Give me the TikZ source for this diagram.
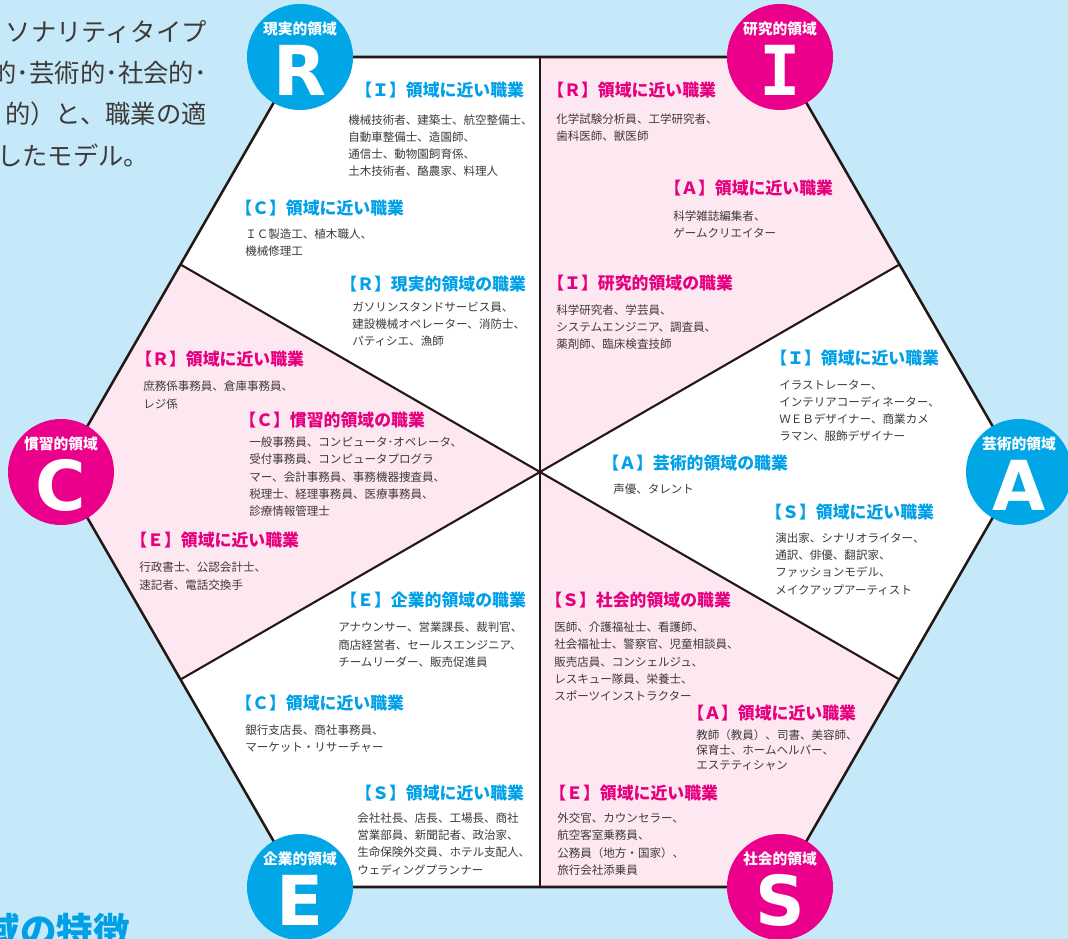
\documentclass[tikz,border=0pt]{standalone}
\usepackage{fontspec}
\setmainfont{Noto Sans CJK JP}
\newfontfamily\letterfont{DejaVu Sans}
\newfontfamily\beamfont{DejaVu Sans Mono}
\usetikzlibrary{positioning,calc}
\definecolor{skyback}{RGB}{197,233,248}
\definecolor{pinkfill}{RGB}{253,232,242}
\definecolor{cyanring}{RGB}{0,166,230}
\definecolor{pinkring}{RGB}{234,0,138}
\definecolor{cyanhead}{RGB}{0,160,233}
\definecolor{pinkhead}{RGB}{230,0,126}
\definecolor{bodyink}{RGB}{62,58,57}
\definecolor{edgeink}{RGB}{35,24,21}

\begin{document}
\begin{tikzpicture}[
        x=0.025cm, y=-0.025cm,
        frame/.style={draw=edgeink, line width=1.8pt, line join=miter},
        spoke/.style={draw=edgeink, line width=1.5pt},
        ring/.style={circle, minimum size=2.65cm, inner sep=0pt},
        ring label/.style={text=white, inner sep=0pt, font=\fontsize{10.5}{12}\selectfont\bfseries},
        big letter/.style={text=white, inner sep=0pt, font=\fontsize{49}{49}\selectfont\letterfont\bfseries},
        head/.style={anchor=west, inner sep=0pt, font=\fontsize{12}{14}\selectfont\bfseries},
        head cyan/.style={head, text=cyanhead},
        head pink/.style={head, text=pinkhead},
        jobs/.style={anchor=north west, inner sep=0pt, align=left, text=bodyink, font=\fontsize{8.2}{12.1}\selectfont},
        intro/.style={inner sep=0pt, text=bodyink, font=\fontsize{18}{20}\selectfont}
    ]
    \useasboundingbox (0,0) rectangle (1068,939);
    \clip (0,0) rectangle (1068,939);
    \fill[skyback] (0,0) rectangle (1068,939);

    \coordinate (O) at (540,472);
    \coordinate (vR) at (300,57);
    \coordinate (vI) at (780,57);
    \coordinate (vA) at (1019,472);
    \coordinate (vS) at (780,887);
    \coordinate (vE) at (300,887);
    \coordinate (vC) at (61,472);
    \coordinate (mRI) at ($(vR)!0.5!(vI)$);
    \coordinate (mIA) at ($(vI)!0.5!(vA)$);
    \coordinate (mAS) at ($(vA)!0.5!(vS)$);
    \coordinate (mSE) at ($(vS)!0.5!(vE)$);
    \coordinate (mEC) at ($(vE)!0.5!(vC)$);
    \coordinate (mCR) at ($(vC)!0.5!(vR)$);

    \fill[white] (vR) -- (vI) -- (vA) -- (vS) -- (vE) -- (vC) -- cycle;
    \fill[pinkfill] (O) -- (mRI) -- (vI) -- (mIA) -- cycle;
    \fill[pinkfill] (O) -- (mAS) -- (vS) -- (mSE) -- cycle;
    \fill[pinkfill] (O) -- (mEC) -- (vC) -- (mCR) -- cycle;
    \foreach \m in {mRI,mIA,mAS,mSE,mEC,mCR}
        \draw[spoke] (O) -- (\m);
    \draw[frame] (vR) -- (vI) -- (vA) -- (vS) -- (vE) -- (vC) -- cycle;

    \foreach \v/\nm/\col/\txt/\ch in {vR/R/cyanring/現実的領域/R, vI/I/pinkring/研究的領域/{\beamfont I},
            vA/A/cyanring/芸術的領域/A, vS/S/pinkring/社会的領域/S,
            vE/E/cyanring/企業的領域/E, vC/C/pinkring/慣習的領域/C} {
        \node[ring, fill=\col] (c\nm) at (\v) {};
        \node[ring label] (t\nm) at ($(c\nm)+(0,-28)$) {\txt};
        \node[big letter] (l\nm) at ($(c\nm)+(0,13)$) {\ch};
    }

    \node[intro, anchor=east] (introA) at (207,32) {ソナリティタイプ};
    \node[intro, anchor=east] (introB) at (207,73) {的･芸術的･社会的･};
    \node[intro, anchor=east] (introC) at (207,114) {的）と、職業の適};
    \node[intro, anchor=west] (introD) at (-3,155) {したモデル。};
    \node[anchor=base east, inner sep=0pt, text=cyanhead, font=\fontsize{26}{28}\selectfont\bfseries] (chapter) at (130,944) {域の特徴};

    % R
    \node[head cyan] (hRI) at (355,90) {【Ｉ】領域に近い職業};
    \node[jobs] (jRI) at (348,114) {機械技術者、建築士、航空整備士、\\自動車整備士、造園師、\\通信士、動物園飼育係、\\土木技術者、酪農家、料理人};
    \node[head cyan] (hRC) at (235,208) {【Ｃ】領域に近い職業};
    \node[jobs] (jRC) at (245,229) {ＩＣ製造工、植木職人、\\機械修理工};
    \node[head cyan] (hRR) at (340,284) {【Ｒ】現実的領域の職業};
    \node[jobs] (jRR) at (352,302) {ガソリンスタンドサービス員、\\建設機械オペレーター、消防士、\\パティシエ、漁師};

    % I
    \node[head pink] (hIR) at (547,90) {【Ｒ】領域に近い職業};
    \node[jobs] (jIR) at (556,113) {化学試験分析員、工学研究者、\\歯科医師、獣医師};
    \node[head pink] (hIA) at (664,188) {【Ａ】領域に近い職業};
    \node[jobs] (jIA) at (673,210) {科学雑誌編集者、\\ゲームクリエイター};
    \node[head pink] (hII) at (547,283) {【Ｉ】研究的領域の職業};
    \node[jobs] (jII) at (556,304) {科学研究者、学芸員、\\システムエンジニア、調査員、\\薬剤師、臨床検査技師};

    % A
    \node[head cyan] (hAI) at (770,358) {【Ｉ】領域に近い職業};
    \node[jobs] (jAI) at (779,380) {イラストレーター、\\インテリアコーディネーター、\\ＷＥＢデザイナー、商業カメ\\ラマン、服飾デザイナー};
    \node[head cyan] (hAA) at (602,463) {【Ａ】芸術的領域の職業};
    \node[jobs] (jAA) at (613,484) {声優、タレント};
    \node[head cyan] (hAS) at (765,512) {【Ｓ】領域に近い職業};
    \node[jobs] (jAS) at (775,533) {演出家、シナリオライター、\\通訳、俳優、翻訳家、\\ファッションモデル、\\メイクアップアーティスト};

    % S
    \node[head pink] (hSS) at (545,600) {【Ｓ】社会的領域の職業};
    \node[jobs] (jSS) at (554,622) {医師、介護福祉士、看護師、\\社会福祉士、警察官、児童相談員、\\販売店員、コンシェルジュ、\\レスキュー隊員、栄養士、\\スポーツインストラクター};
    \node[head pink] (hSA) at (687,713) {【Ａ】領域に近い職業};
    \node[jobs, font=\fontsize{8.2}{10.8}\selectfont] (jSA) at (696,729) {教師（教員）、司書、美容師、\\保育士、ホームヘルパー、\\エステティシャン};
    \node[head pink] (hSE) at (549,793) {【Ｅ】領域に近い職業};
    \node[jobs] (jSE) at (557,813) {外交官、カウンセラー、\\航空客室乗務員、\\公務員（地方・国家）、\\旅行会社添乗員};

    % E
    \node[head cyan] (hEE) at (340,600) {【Ｅ】企業的領域の職業};
    \node[jobs] (jEE) at (338,622) {アナウンサー、営業課長、裁判官、\\商店経営者、セールスエンジニア、\\チームリーダー、販売促進員};
    \node[head cyan] (hEC) at (235,703) {【Ｃ】領域に近い職業};
    \node[jobs] (jEC) at (245,725) {銀行支店長、商社事務員、\\マーケット・リサーチャー};
    \node[head cyan] (hES) at (355,793) {【Ｓ】領域に近い職業};
    \node[jobs] (jES) at (357,813) {会社社長、店長、工場長、商社\\営業部員、新聞記者、政治家、\\生命保険外交員、ホテル支配人、\\ウェディングプランナー};

    % C
    \node[head pink] (hCR) at (135,359) {【Ｒ】領域に近い職業};
    \node[jobs] (jCR) at (143,381) {庶務係事務員、倉庫事務員、\\レジ係};
    \node[head pink] (hCC) at (239,420) {【Ｃ】慣習的領域の職業};
    \node[jobs] (jCC) at (249,437) {一般事務員、コンピュータ･オペレータ、\\受付事務員、コンピュータプログラ\\マー、会計事務員、事務機器捜査員、\\税理士、経理事務員、医療事務員、\\診療情報管理士};
    \node[head pink] (hCE) at (130,540) {【Ｅ】領域に近い職業};
    \node[jobs] (jCE) at (139,562) {行政書士、公認会計士、\\速記者、電話交換手};
\end{tikzpicture}
\end{document}
